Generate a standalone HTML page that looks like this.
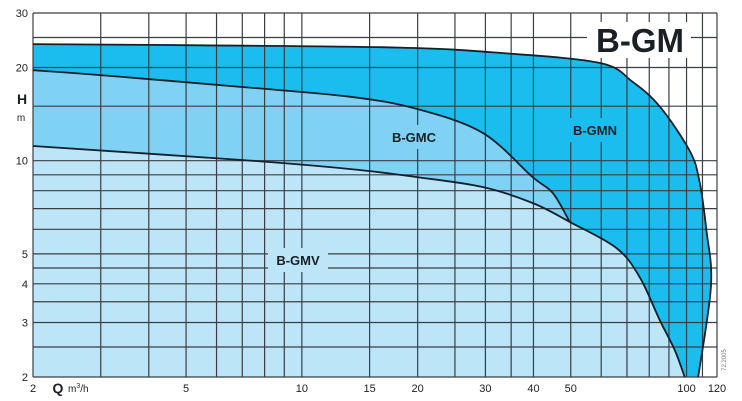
<!DOCTYPE html>
<html><head><meta charset="utf-8"><style>
html,body{margin:0;padding:0;background:#fff;}
svg{display:block;font-family:"Liberation Sans",Arial,sans-serif;}
</style></head><body>
<svg id="chart" width="742" height="401" viewBox="0 0 742 401" xmlns="http://www.w3.org/2000/svg">
<g id="fills"></g>
<g id="grid"></g>
<g id="curves"></g>
<g id="labels"></g>
</svg>
<script>
const yTicks=[2,3,4,5,10,20,30];
const xTicks=[2,5,10,15,20,30,40,50,100,120];
const yGrid=[2,2.5,3,3.5,4,4.5,5,6,7,8,9,10,15,20,25,30];
const xGrid=[2,3,4,5,6,7,8,9,10,15,20,25,30,35,40,50,60,70,80,90,100,110,120];
const gmnQ=[2,5.43,17.97,32.7,59.4,72.3,85.4,101.7,107.9,112.6,115.8,107.2];
const gmnH=[23.8,23.6,23.2,22.3,20.7,18,14.9,10.8,8.66,5.97,3.95,2];
const gmcQ=[2,2.99,6.98,13.3,19.9,29.5,39.8,44.9,49.7];
const gmcH=[19.6,18.9,17.3,16.1,14.7,12.3,8.85,7.86,6.34];
const gmvQ=[2,6.98,13.3,19.9,29.5,39.8,49.7,65.7,75.5,85.1,93.1,98.9];
const gmvH=[11.15,10.05,9.4,8.85,8.22,7.3,6.34,5.22,4.21,3.06,2.45,2];

const X0=33,X1=717,Y0=377,Y1=13;
function xs(q){return X0+Math.log10(q/2)/Math.log10(60)*(X1-X0);}
function ys(h){return Y0-Math.log10(h/2)/Math.log10(15)*(Y0-Y1);}
const NS="http://www.w3.org/2000/svg";
function mk(tag,attrs,parent){const e=document.createElementNS(NS,tag);for(const k in attrs)e.setAttribute(k,attrs[k]);parent.appendChild(e);return e;}
function smooth(pts){
  let d="M"+pts[0][0].toFixed(1)+","+pts[0][1].toFixed(1);
  for(let i=0;i<pts.length-1;i++){
    const p0=pts[Math.max(0,i-1)],p1=pts[i],p2=pts[i+1],p3=pts[Math.min(pts.length-1,i+2)];
    const c1=[p1[0]+(p2[0]-p0[0])/6,p1[1]+(p2[1]-p0[1])/6];
    const c2=[p2[0]-(p3[0]-p1[0])/6,p2[1]-(p3[1]-p1[1])/6];
    d+=" C"+c1[0].toFixed(1)+","+c1[1].toFixed(1)+" "+c2[0].toFixed(1)+","+c2[1].toFixed(1)+" "+p2[0].toFixed(1)+","+p2[1].toFixed(1);
  }
  return d;
}
function pts(Q,H){return Q.map((q,i)=>[xs(q),ys(H[i])]);}
const fills=document.getElementById('fills'),grid=document.getElementById('grid'),curves=document.getElementById('curves'),labels=document.getElementById('labels');
const pN=pts(gmnQ,gmnH),pC=pts(gmcQ,gmcH),pV=pts(gmvQ,gmvH);
let f;
f=mk('path',{d:smooth(pN)+" L"+X0+","+Y0+" Z",fill:"#1bbdee"},fills);


const lc=pC[pC.length-1];
f=mk('path',{d:smooth(pC)+" L"+lc[0]+","+Y0+" L"+X0+","+Y0+" Z",fill:"#7fd2f3"},fills);


f=mk('path',{d:smooth(pV)+" L"+X0+","+Y0+" Z",fill:"#bce5f8"},fills);


yGrid.forEach(v=>{const l=mk('line',{x1:X0,x2:X1,y1:ys(v),y2:ys(v),stroke:"#3a3f44","stroke-width":1.2},grid);

});
xGrid.forEach(v=>{const l=mk('line',{x1:xs(v),x2:xs(v),y1:Y1,y2:Y0,stroke:"#3a3f44","stroke-width":1.2},grid);

});
[[pN,'curve-b-gmn'],[pC,'curve-b-gmc'],[pV,'curve-b-gmv']].forEach(([p,n])=>{const c=mk('path',{d:smooth(p),fill:"none",stroke:"#14202c","stroke-width":1.8},curves);

});
yTicks.forEach(v=>{const t=mk('text',{x:28,y:ys(v)+4,"text-anchor":"end","font-size":11,fill:"#222"},labels);t.textContent=v;

});
xTicks.forEach(v=>{const t=mk('text',{x:xs(v),y:392,"text-anchor":"middle","font-size":11,fill:"#222"},labels);t.textContent=v;

});
</script>
<script>
(function(){
const NS="http://www.w3.org/2000/svg";const L=document.getElementById('labels');
function box(x,y,w,h,fill,name){const r=document.createElementNS(NS,'rect');r.setAttribute('x',x);r.setAttribute('y',y);r.setAttribute('width',w);r.setAttribute('height',h);r.setAttribute('fill',fill);


L.appendChild(r);}
function txt(x,y,s,size,w,name,anchor){const t=document.createElementNS(NS,'text');t.setAttribute('x',x);t.setAttribute('y',y);t.setAttribute('font-size',size);t.setAttribute('font-weight',w);t.setAttribute('fill','#1a1f26');t.setAttribute('text-anchor',anchor||'middle');t.textContent=s;


L.appendChild(t);return t;}
box(587,22,104,36,'#fff','title-bg');
txt(640,52,'B-GM',33,'bold','chart-title');
box(384,125,60,24,'#7fd2f3','gmc-label-bg');
txt(414,142,'B-GMC',13,'bold','label-b-gmc');
box(566,118,58,24,'#1bbdee','gmn-label-bg');
txt(595,135,'B-GMN',13,'bold','label-b-gmn');
box(268,248,60,24,'#bce5f8','gmv-label-bg');
txt(298,265,'B-GMV',13,'bold','label-b-gmv');
txt(22,104,'H',14,'bold','y-axis-title');
txt(21,121,'m',10,'normal','y-axis-unit');
txt(58,393,'Q',14,'bold','x-axis-title');
const u=txt(68,392,'m',10,'normal','x-axis-unit','start');
const s=document.createElementNS(NS,'tspan');s.setAttribute('dy','-4');s.setAttribute('font-size','7');s.textContent='3';u.appendChild(s);
const s2=document.createElementNS(NS,'tspan');s2.setAttribute('dy','4');s2.textContent='/h';u.appendChild(s2);
const c=txt(0,0,'72.2005',6,'normal','figure-code');c.setAttribute('transform','translate(726,360) rotate(-90)');c.setAttribute('fill','#777');
})();
</script>
</body></html>
